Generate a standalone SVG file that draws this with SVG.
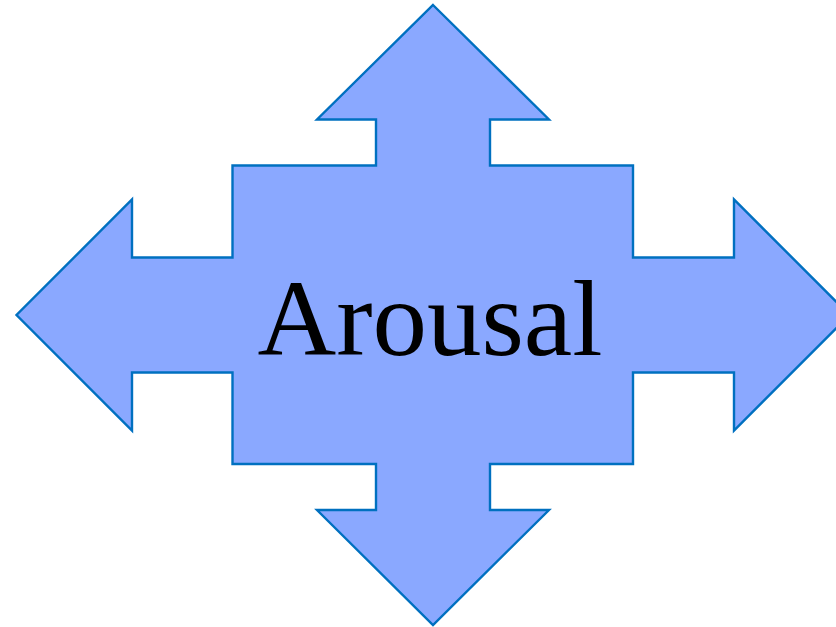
<svg xmlns="http://www.w3.org/2000/svg" width="836" height="627" viewBox="0 0 836 627">
<style>
.shape{fill:#8AA8FF;stroke:#0070C0;stroke-width:2.4;stroke-linejoin:miter}
.lbl{font-family:"Liberation Serif","Times New Roman",serif;font-size:109px;fill:#000}
</style>
<rect width="836" height="627" fill="#fff"/>
<g id="arousal">
<polygon class="shape" points="433,5 549,119.5 490,119.5 490,165.5 633,165.5 633,257.5 734,257.5 734,199.5 849.5,315 734,430.5 734,372.5 633,372.5 633,464 490,464 490,510 549,510 433,625 317,510 376,510 376,464 232.5,464 232.5,372.5 132,372.5 132,430.5 16.5,315 132,199.5 132,257.5 232.5,257.5 232.5,165.5 376,165.5 376,119.5 317,119.5"/>
<text class="lbl" x="430" y="355" text-anchor="middle">Arousal</text>
</g>
<g id="connectors"></g>
</svg>
